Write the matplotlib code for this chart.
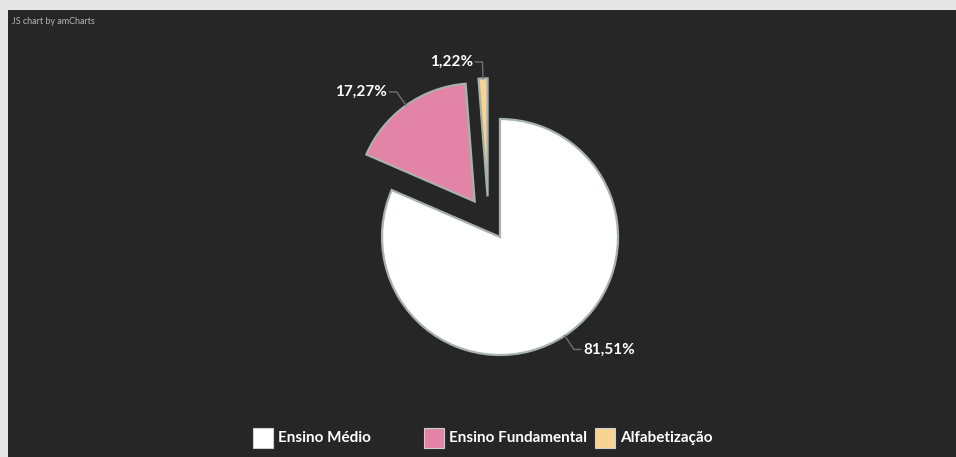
import numpy as np
import matplotlib
matplotlib.use("Agg")
from matplotlib import pyplot as plt
from matplotlib.patches import Rectangle

# dados do gráfico
categorias = ["Ensino Médio", "Ensino Fundamental", "Alfabetização"]
percentuais = [81.51, 17.27, 1.22]
rotulos = ["81,51%", "17,27%", "1,22%"]
cores = ["#ffffff", "#e384a7", "#f7d491"]
destaque = [0.0, 0.37, 0.36]

W, H = 956, 457
CX, CY, R = 500, 237, 118  # centro e raio da pizza em pixels


def px(x, y):
	"""Converte pixels da imagem (origem no canto superior) para coordenadas de dados."""
	return (x - CX) / R, (CY - y) / R


fig = plt.figure(figsize=(W / 100, H / 100), dpi=100, facecolor="#e6e6e6")
ax = fig.add_axes([8 / W, 0, (W - 8) / W, (H - 10) / H])
ax.set_facecolor("#262626")
x0, y1 = px(8, 10)
x1, y0 = px(W, H)
ax.set_xlim(x0, x1)
ax.set_ylim(y0, y1)
ax.set_axis_off()
ax.add_patch(Rectangle((x0, y0), x1 - x0, y1 - y0, facecolor="#262626", zorder=0))

fonte = ["Lato", "DejaVu Sans"]

fatias, _ = ax.pie(percentuais, colors=cores, startangle=90, counterclock=False,
	explode=destaque, radius=1.0, center=(0, 0), frame=True,
	wedgeprops=dict(edgecolor="#a7b2ad", linewidth=1.6))
ax.set_xlim(x0, x1)
ax.set_ylim(y0, y1)
ax.set_aspect("auto")
ax.set_axis_off()

# a fatia pequena sai um pouco inclinada no original
ang = np.deg2rad(107)
fatias[2].set_center((destaque[2] * np.cos(ang), destaque[2] * np.sin(ang)))

# rótulos com linhas de chamada
for w, txt in zip(fatias, rotulos):
	cx, cy = w.center
	meio = np.deg2rad((w.theta1 + w.theta2) / 2)
	p1 = (cx + 1.0 * np.cos(meio), cy + 1.0 * np.sin(meio))
	p2 = (cx + 1.14 * np.cos(meio), cy + 1.14 * np.sin(meio))
	lado = 1 if np.cos(meio) > 0.01 else -1
	p3 = (p2[0] + lado * 0.06, p2[1])
	ax.plot([p1[0], p2[0], p3[0]], [p1[1], p2[1], p3[1]], color="#6f6f6f", lw=1.0)
	ax.text(p3[0] + lado * 0.02, p3[1], txt, color="white", fontsize=11, fontweight="bold",
		family=fonte, ha="left" if lado > 0 else "right", va="center")

# legenda
for i, (nome, cor) in enumerate(zip(categorias, cores)):
	lx = 253 + i * 171
	xa, ya = px(lx, 448)
	ax.add_patch(Rectangle((xa, ya), 20 / R, 20 / R, facecolor=cor, edgecolor="#cfcfcf", lw=0.8))
	xt, yt = px(lx + 25, 438)
	ax.text(xt, yt, nome, color="white", fontsize=11, fontweight="bold", family=fonte,
		ha="left", va="center")

fig.text(12 / W, 1 - 22 / H, "JS chart by amCharts", color="#b5b5b5", fontsize=6.5,
	family=fonte, ha="left", va="center")

fig.savefig("out.png", dpi=100, facecolor=fig.get_facecolor())
